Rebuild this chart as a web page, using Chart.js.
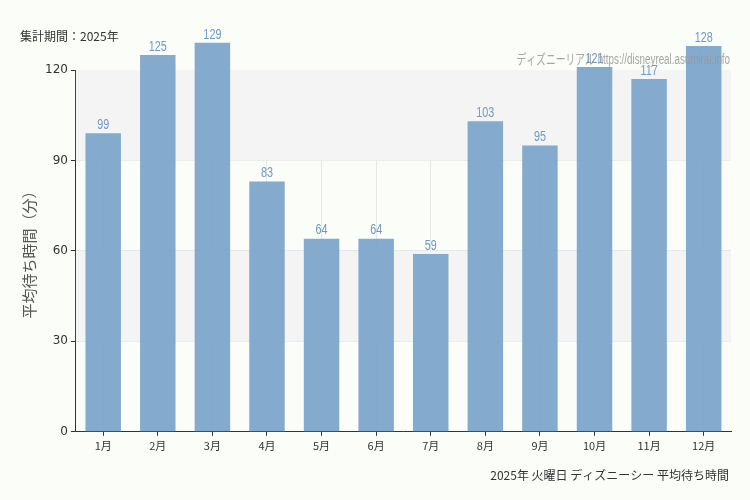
<!DOCTYPE html>
<html>
<head>
<meta charset="utf-8">
<script src="https://cdn.jsdelivr.net/npm/chart.js"></script>
<style>
	body { margin: 0; background: #fbfdf9; }
</style>
</head>
<body>
<canvas id="chart1" width="750" height="500"></canvas>
<script>
var months = ['1月','2月','3月','4月','5月','6月','7月','8月','9月','10月','11月','12月']
var waits = [99, 125, 129, 83, 64, 64, 59, 103, 95, 121, 117, 128]
var yTicks = [0, 30, 60, 90, 120]

// condensed look: squeeze text horizontally
function narrowText(c, txt, x, y, sx) {
	c.save()
	c.translate(x, y)
	c.scale(sx, 1)
	c.fillText(txt, 0, 0)
	c.restore()
}

// gray bands behind bars + texts around the chart
var decor = {
	id: 'decor',
	beforeDatasetsDraw(chart) {
		let c = chart.ctx, a = chart.chartArea, y = chart.scales.y
		c.save()
		c.fillStyle = '#f4f4f4'
		;[[30, 60], [90, 120]].forEach(b => {
			c.fillRect(a.left, y.getPixelForValue(b[1]), a.right - a.left, y.getPixelForValue(b[0]) - y.getPixelForValue(b[1]))
		})
		c.restore()
	},
	afterDraw(chart) {
		let c = chart.ctx, meta = chart.getDatasetMeta(0)
		c.save()
		c.font = '15px "Liberation Sans", sans-serif'
		c.fillStyle = '#6f98c6'
		c.textAlign = 'center'
		c.textBaseline = 'bottom'
		meta.data.forEach((bar, i) => narrowText(c, waits[i], bar.x, bar.y - 1, 0.72))
		c.font = '14px "Liberation Sans", "Noto Sans CJK JP", sans-serif'
		c.fillStyle = 'rgba(150,150,150,0.85)'
		c.textAlign = 'right'
		narrowText(c, 'ディズニーリアル https://disneyreal.asumirai.info', 730, 67, 0.7)
		c.font = '12px "Noto Sans CJK JP", sans-serif'
		c.fillStyle = '#333'
		c.textAlign = 'left'
		c.textBaseline = 'middle'
		c.fillText('集計期間：2025年', 20, 36)
		c.textAlign = 'right'
		c.fillText('2025年 火曜日 ディズニーシー 平均待ち時間', 729, 475)
		c.restore()
	}
}

new Chart(document.getElementById('chart1'), {
	type: 'bar',
	data: { labels: months, datasets: [{ data: waits, backgroundColor: 'rgba(122,164,202,0.92)', categoryPercentage: 1, barPercentage: 0.65, clip: false }] },
	options: {
		responsive: false, animation: false,
		layout: { padding: { left: 16, right: 19, top: 70, bottom: 45 } },
		plugins: { legend: { display: false }, tooltip: { enabled: false } },
		scales: {
			x: {
				grid: { color: '#e6e6e6', tickLength: 4, tickColor: '#333', offset: false },
				border: { color: '#333' },
				ticks: { autoSkip: false, maxRotation: 0, color: '#333', font: { size: 11, family: '"Noto Sans CJK JP", sans-serif' } }
			},
			y: {
				min: 0, max: 120,
				afterBuildTicks: s => { s.ticks = yTicks.map(v => ({ value: v })) },
				grid: { color: '#e6e6e6', tickLength: 5, tickColor: '#333' },
				border: { color: '#333' },
				ticks: { color: '#333', font: { size: 12, family: '"DejaVu Sans", sans-serif' } },
				title: { display: true, text: '平均待ち時間（分）', color: '#555', font: { size: 15, family: '"Noto Sans CJK JP", sans-serif' } }
			}
		}
	},
	plugins: [decor]
})
</script>
</body>
</html>
